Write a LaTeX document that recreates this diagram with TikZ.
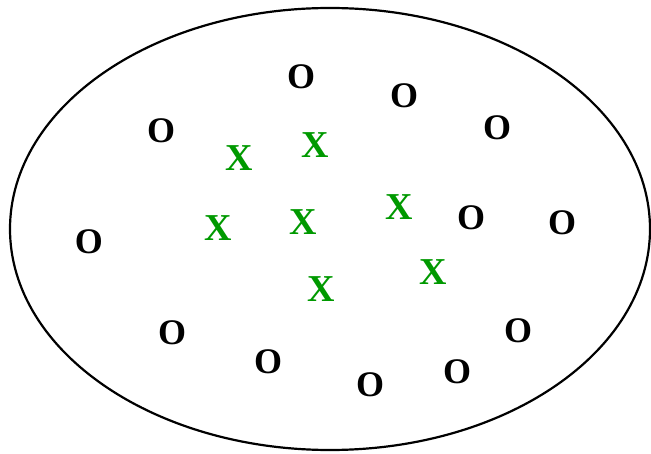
\documentclass[tikz,border=0pt]{standalone}
\usepackage{fontspec}
\setmainfont{Liberation Serif}
\usepackage{xcolor}
\definecolor{classgreen}{RGB}{0,153,0}
\tikzset{
  sample o/.style={inner sep=0pt, font=\fontsize{36}{36}\selectfont\bfseries, text=black},
  sample x/.style={inner sep=0pt, font=\fontsize{38}{38}\selectfont\bfseries, text=classgreen},
  region edge/.style={line width=2.2pt}
}

\begin{document}
\begin{tikzpicture}[x=1pt, y=-1pt]
      \useasboundingbox (0,0) rectangle (651,454);
      \draw[region edge] (330,229) ellipse [x radius=320, y radius=221];
      \node[sample o] (o1) at (301,77) {O};
      \node[sample o] (o2) at (404,96) {O};
      \node[sample o] (o3) at (161,131) {O};
      \node[sample o] (o4) at (497,128) {O};
      \node[sample o] (o5) at (89,242) {O};
      \node[sample o] (o6) at (471,218) {O};
      \node[sample o] (o7) at (562,223) {O};
      \node[sample o] (o8) at (172,333) {O};
      \node[sample o] (o9) at (268,362) {O};
      \node[sample o] (o10) at (518,331) {O};
      \node[sample o] (o11) at (370,385) {O};
      \node[sample o] (o12) at (457,372) {O};
      \node[sample x] (x1) at (239,158) {X};
      \node[sample x] (x2) at (315,145) {X};
      \node[sample x] (x3) at (218,228) {X};
      \node[sample x] (x4) at (303,222) {X};
      \node[sample x] (x5) at (399,207) {X};
      \node[sample x] (x6) at (321,289) {X};
      \node[sample x] (x7) at (433,272) {X};
    \end{tikzpicture}
\end{document}
